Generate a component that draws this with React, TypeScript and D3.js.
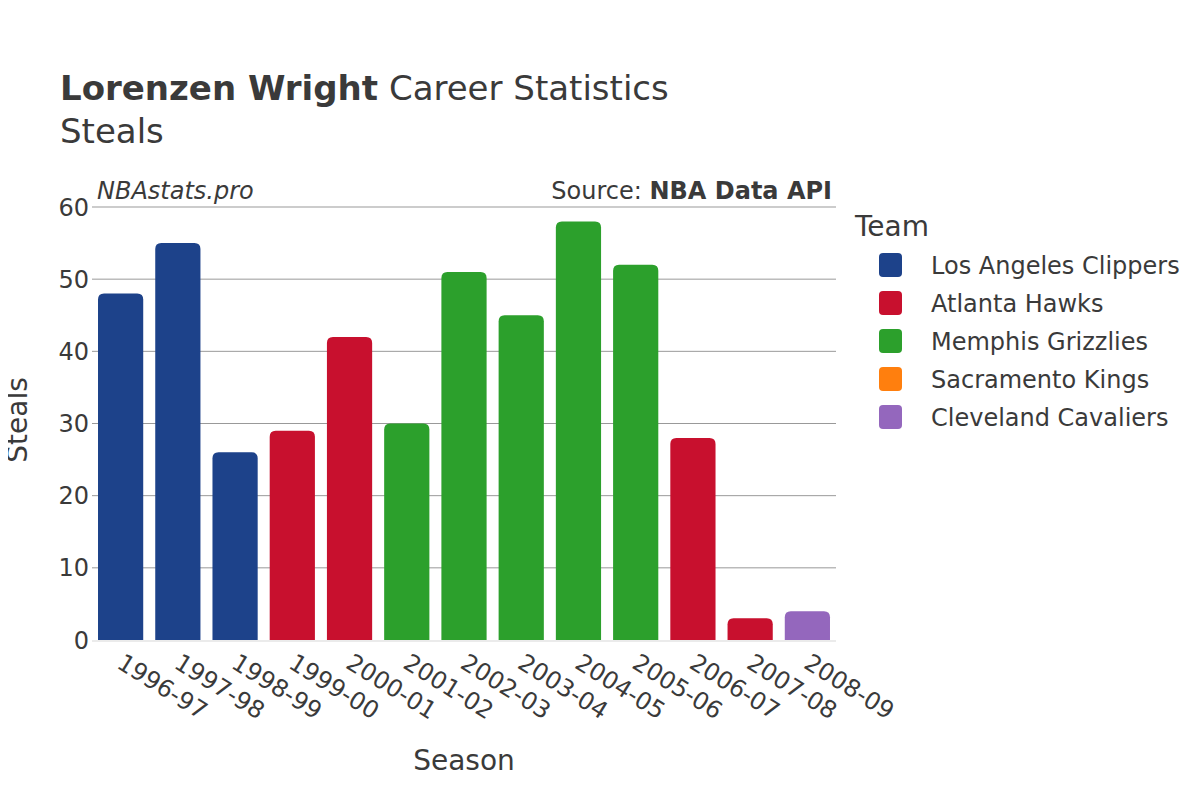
import React, { useEffect, useRef } from 'react';
import * as d3 from 'd3';

const seasons = ['1996-97', '1997-98', '1998-99', '1999-00', '2000-01', '2001-02', '2002-03', '2003-04', '2004-05', '2005-06', '2006-07', '2007-08', '2008-09'];
const steals = [48, 55, 26, 29, 42, 30, 51, 45, 58, 52, 28, 3, 4];
const seasonTeams = ['Los Angeles Clippers', 'Los Angeles Clippers', 'Los Angeles Clippers', 'Atlanta Hawks', 'Atlanta Hawks', 'Memphis Grizzlies', 'Memphis Grizzlies', 'Memphis Grizzlies', 'Memphis Grizzlies', 'Memphis Grizzlies', 'Atlanta Hawks', 'Atlanta Hawks', 'Cleveland Cavaliers'];
const teams = ['Los Angeles Clippers', 'Atlanta Hawks', 'Memphis Grizzlies', 'Sacramento Kings', 'Cleveland Cavaliers'];
const teamColors = ['#1d428a', '#c8102e', '#2ca02c', '#ff7f0e', '#9467bd'];
const yTicks = [0, 10, 20, 30, 40, 50, 60];

const FONT = '"DejaVu Sans", sans-serif';
const TEXT = '#3a3a3a';

function topRounded(x: number, y: number, w: number, h: number, r: number) {
  const rr = Math.min(r, h, w / 2);
  return `M${x},${y + h}V${y + rr}Q${x},${y} ${x + rr},${y}H${x + w - rr}Q${x + w},${y} ${x + w},${y + rr}V${y + h}Z`;
}

export default function App() {
  const svgRef = useRef<SVGSVGElement>(null);

  useEffect(() => {
    if (!svgRef.current) return;
    const svg = d3.select(svgRef.current);
    svg.selectAll('*').remove();

    const left = 92, right = 836, top = 207, bottom = 640;
    const x = d3.scaleBand().domain(seasons).range([left, right]).paddingInner(0.21).paddingOuter(0.105);
    const y = d3.scaleLinear().domain([0, 60]).range([bottom, top]);
    const color = d3.scaleOrdinal<string, string>().domain(teams).range(teamColors);

    svg.append('rect').attr('width', 1200).attr('height', 800).attr('fill', '#fff');

    // title
    const title = svg.append('text').attr('x', 60).attr('y', 100)
      .attr('font-family', FONT).attr('font-size', 34).attr('fill', TEXT);
    title.append('tspan').attr('font-weight', 'bold').text('Lorenzen Wright');
    title.append('tspan').text(' Career Statistics');
    svg.append('text').attr('x', 60).attr('y', 143)
      .attr('font-family', FONT).attr('font-size', 34).attr('fill', TEXT).text('Steals');

    // grid
    svg.append('g').selectAll('line').data(yTicks.filter(t => t > 0)).enter().append('line')
      .attr('x1', left).attr('x2', right)
      .attr('y1', d => y(d)).attr('y2', d => y(d))
      .attr('stroke', '#999').attr('stroke-width', 1);

    // bars
    svg.append('g').selectAll('path').data(steals).enter().append('path')
      .attr('d', (d, i) => {
        const bx = x(seasons[i])!;
        return topRounded(bx, y(d), x.bandwidth(), y(0) - y(d), 6);
      })
      .attr('fill', (d, i) => color(seasonTeams[i]));

    // zero line
    svg.append('line').attr('x1', left).attr('x2', right).attr('y1', y(0) + 1).attr('y2', y(0) + 1)
      .attr('stroke', '#ebebeb').attr('stroke-width', 2);

    // y tick labels
    svg.append('g').selectAll('text').data(yTicks).enter().append('text')
      .attr('x', 89).attr('y', d => y(d)).attr('dy', '0.36em')
      .attr('text-anchor', 'end').attr('font-family', FONT).attr('font-size', 24).attr('fill', TEXT)
      .text(d => d);

    // x tick labels
    svg.append('g').selectAll('text').data(seasons).enter().append('text')
      .attr('transform', d => `translate(${x(d)! + x.bandwidth() / 2 - 5},${bottom + 27}) rotate(32)`)
      .attr('font-family', FONT).attr('font-size', 24).attr('fill', TEXT)
      .text(d => d);

    // axis titles
    svg.append('text').attr('x', 464).attr('y', 770).attr('text-anchor', 'middle')
      .attr('font-family', FONT).attr('font-size', 28).attr('fill', TEXT).text('Season');
    svg.append('text').attr('transform', `translate(17,420) rotate(-90)`)
      .attr('text-anchor', 'middle').attr('dy', '0.36em')
      .attr('font-family', FONT).attr('font-size', 28).attr('fill', TEXT).text('Steals');

    // annotations
    svg.append('text').attr('x', 97).attr('y', 199)
      .attr('font-family', FONT).attr('font-size', 24).attr('font-style', 'italic').attr('fill', TEXT)
      .text('NBAstats.pro');
    const src = svg.append('text').attr('x', 832).attr('y', 199).attr('text-anchor', 'end')
      .attr('font-family', FONT).attr('font-size', 24).attr('fill', TEXT);
    src.append('tspan').text('Source: ');
    src.append('tspan').attr('font-weight', 'bold').text('NBA Data API');

    // legend
    svg.append('text').attr('x', 855).attr('y', 236)
      .attr('font-family', FONT).attr('font-size', 28).attr('fill', TEXT).text('Team');
    const items = svg.append('g').selectAll('g').data(teams).enter().append('g')
      .attr('transform', (d, i) => `translate(0,${265 + i * 38})`);
    items.append('rect').attr('x', 879).attr('y', -12).attr('width', 23).attr('height', 24).attr('rx', 4)
      .attr('fill', d => color(d));
    items.append('text').attr('x', 931).attr('dy', '0.36em')
      .attr('font-family', FONT).attr('font-size', 24).attr('fill', TEXT).text(d => d);
  }, []);

  return <svg ref={svgRef} width={1200} height={800} style={{ display: 'block', margin: -8 }} />;
}
